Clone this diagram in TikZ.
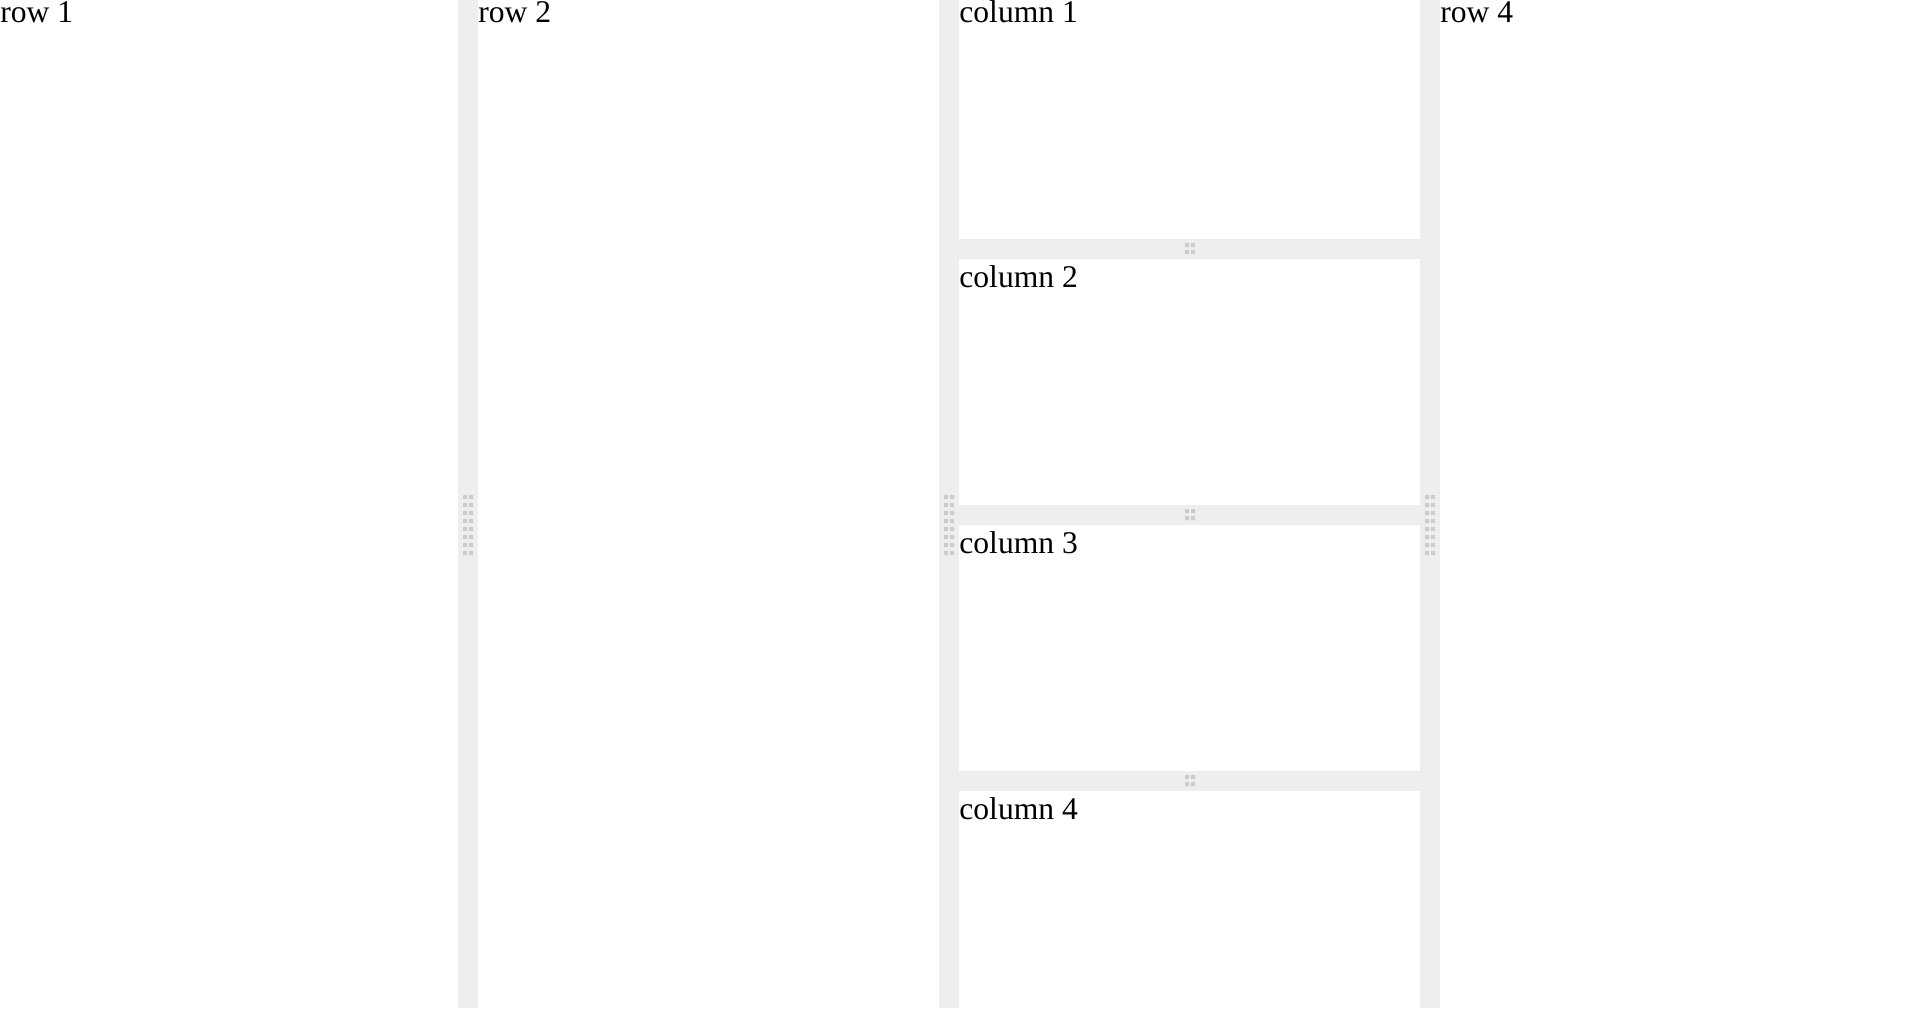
\documentclass[tikz,border=0pt]{standalone}
\usepackage{fontspec}
\setmainfont{Liberation Serif}
\definecolor{guttergray}{RGB}{238,238,238}
\definecolor{gripgray}{RGB}{204,204,204}
\begin{document}
\begin{tikzpicture}[x=0.5pt,y=-0.5pt,
   gutter/.style={fill=guttergray},
   grip/.style={fill=gripgray},
   panetext/.style={anchor=base west,inner sep=0pt,font=\fontsize{15.8}{18}\selectfont}]
   \useasboundingbox[fill=white] (0,0) rectangle (1911,1008);

   \fill[gutter] (458,0) rectangle (478,1008);
   \fill[gutter] (939,0) rectangle (959,1008);
   \fill[gutter] (1420,0) rectangle (1440,1008);
   \fill[gutter] (959,239) rectangle (1420,259);
   \fill[gutter] (959,505) rectangle (1420,525);
   \fill[gutter] (959,771) rectangle (1420,791);

   \foreach \cx in {468,949,1430}
     \foreach \k in {0,...,7}
       \fill[grip] (\cx-5,495+8*\k) rectangle ++(4,4) (\cx+1,495+8*\k) rectangle ++(4,4);
   \foreach \cy in {249,515,781}
     \fill[grip] (1185,\cy-6) rectangle ++(4,4) (1191,\cy-6) rectangle ++(4,4)
                 (1185,\cy+1) rectangle ++(4,4) (1191,\cy+1) rectangle ++(4,4);

   \node[panetext] (row1) at (0,22.5) {row 1};
   \node[panetext] (row2) at (478,22.5) {row 2};
   \node[panetext] (col1) at (959,22.5) {column 1};
   \node[panetext] (col2) at (959,287.7) {column 2};
   \node[panetext] (col3) at (959,553.7) {column 3};
   \node[panetext] (col4) at (959,819.7) {column 4};
   \node[panetext] (row4) at (1440,22.5) {row 4};

 \end{tikzpicture}
\end{document}
